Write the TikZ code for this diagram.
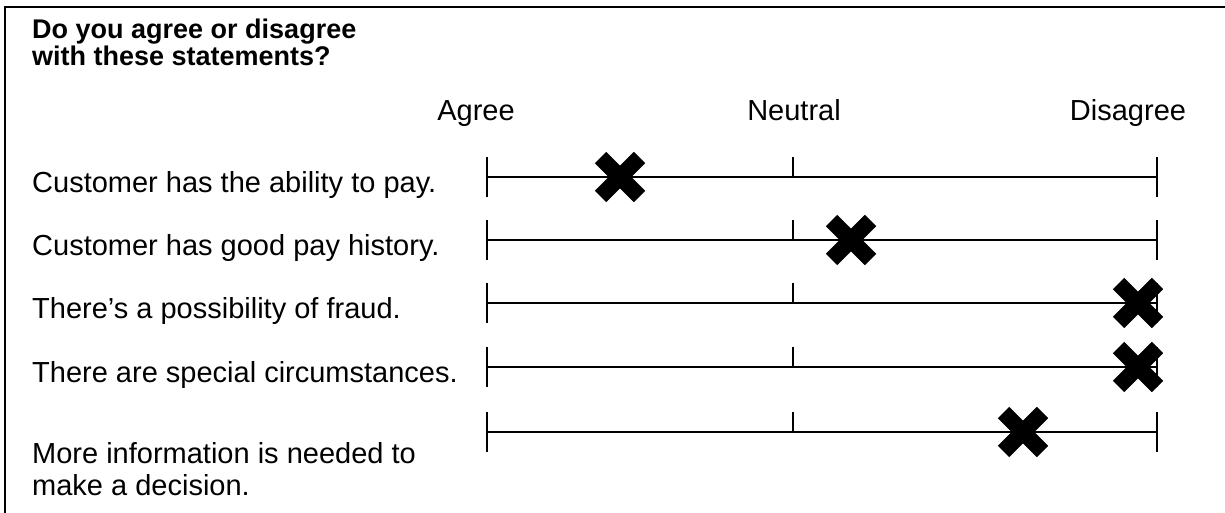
\documentclass[tikz,border=0pt]{standalone}
\usepackage{fontspec}
\setmainfont{Liberation Sans}
\begin{document}
\begin{tikzpicture}[x=1pt,y=-1pt,
  lbl/.style={font=\fontsize{29}{32}\selectfont, inner sep=0pt},
  ttl/.style={font=\fontsize{27}{24.5}\selectfont\bfseries, inner sep=0pt, align=left},
  scaleline/.style={line width=2pt},
  tick/.style={line width=2.4pt},
  cross/.style={line width=16pt, line cap=butt},
  frame/.style={line width=2.5pt}]
\useasboundingbox (0,0) rectangle (1225,512);
% frame (top and left edges visible)
\coordinate (fTL) at (5,7);
\coordinate (fTR) at (1226,7);
\coordinate (fBL) at (5,513);
\draw[frame] (fBL) -- (fTL) -- (fTR);
% title
\node[ttl, anchor=north west] (title) at (32,19) {Do you agree or disagree\\with these statements?};
% scale headings
\node[lbl, anchor=base] (hAgree) at (476,120) {Agree};
\node[lbl, anchor=base] (hNeutral) at (794,120) {Neutral};
\node[lbl, anchor=base] (hDisagree) at (1128,120) {Disagree};
% statements
\node[lbl, anchor=base west] (s1) at (32,192) {Customer has the ability to pay.};
\node[lbl, anchor=base west] (s2) at (32,255) {Customer has good pay history.};
\node[lbl, anchor=base west] (s3) at (32,318) {There’s a possibility of fraud.};
\node[lbl, anchor=base west] (s4) at (32,382) {There are special circumstances.};
\node[lbl, anchor=north west, align=left] (s5) at (32,442) {More information is needed to\\make a decision.};
% scales
\foreach \i/\y/\xm in {1/177/620, 2/240/851, 3/303/1138, 4/367/1138, 5/432/1023} {
  \coordinate (L\i) at (487,\y);
  \coordinate (M\i) at (793,\y);
  \coordinate (R\i) at (1157,\y);
  \coordinate (X\i) at (\xm,\y);
  \draw[scaleline] (L\i) -- (R\i);
  \draw[tick] ([yshift=20pt]L\i) -- ([yshift=-20pt]L\i);
  \draw[tick] ([yshift=20pt]M\i) -- (M\i);
  \draw[tick] ([yshift=20pt]R\i) -- ([yshift=-20pt]R\i);
  \draw[cross] ([shift={(-19.5pt,-19.5pt)}]X\i) -- ([shift={(19.5pt,19.5pt)}]X\i);
  \draw[cross] ([shift={(-19.5pt,19.5pt)}]X\i) -- ([shift={(19.5pt,-19.5pt)}]X\i);
}
\end{tikzpicture}
\end{document}
